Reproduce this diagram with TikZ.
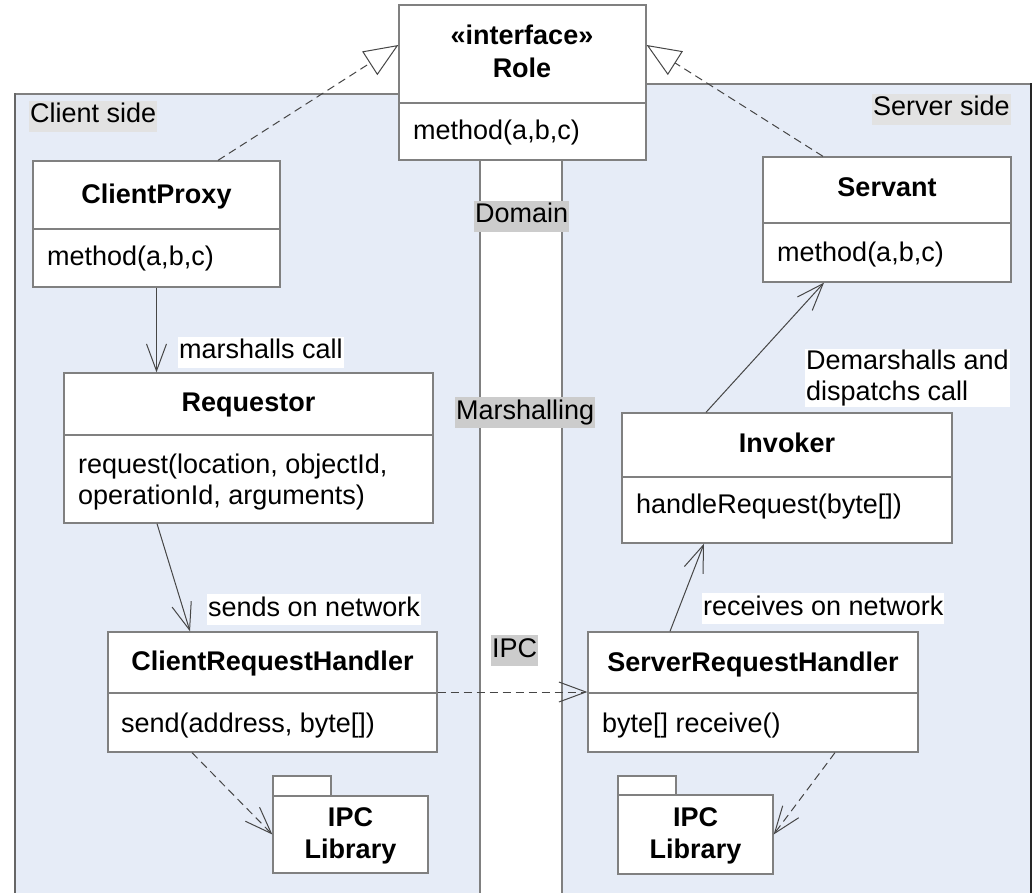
\documentclass[tikz,border=0pt]{standalone}
\usepackage{fontspec}
\setmainfont{Liberation Sans}
\usetikzlibrary{arrows.meta,fit}
\definecolor{panel}{RGB}{230,236,247}
\definecolor{edge}{RGB}{128,128,128}
\definecolor{labelgray}{RGB}{226,226,226}
\definecolor{stripgray}{RGB}{204,204,204}
\definecolor{wire}{RGB}{70,70,70}
\begin{document}
\begin{tikzpicture}[x=1pt,y=-1pt,
  every node/.style={font=\fontsize{27pt}{31pt}\selectfont},
  classbox/.style={draw=edge, fill=white, line width=1.3pt, inner sep=0pt},
  divider/.style={draw=edge, line width=1.3pt},
  ctitle/.style={anchor=base, inner sep=0pt, font=\fontsize{27pt}{31pt}\selectfont\bfseries},
  cbody/.style={anchor=base west, inner sep=0pt},
  tag/.style={anchor=base west, inner xsep=1pt, inner ysep=0pt, text height=22pt, text depth=9pt},
  wireline/.style={draw=wire, line width=1pt},
  vhead/.style={-{Straight Barb[length=27pt,width=20pt]}},
  dashedline/.style={dash pattern=on 8pt off 5pt},
  realize/.style={wireline, dashedline, -{Triangle[length=34pt,width=28pt,fill=white]}},
]
\useasboundingbox (0,0) rectangle (1034,893);

% panels
\fill[panel] (15,94) rectangle (480,893);
\fill[panel] (562,84) rectangle (1032,893);
\draw[edge, line width=1.3pt] (15,94) -- (480,94) -- (480,893);
\draw[black!60, line width=2.5pt] (15,93.4) -- (15,893);
\draw[edge, line width=1.3pt] (562,893) -- (562,84) -- (1031,84);
\draw[black!85, line width=2.5pt] (1031,83.4) -- (1031,893);

% panel labels
\node[tag, fill=labelgray] (clientlbl) at (29,123) {Client side};
\node[tag, fill=labelgray] (serverlbl) at (872,116) {Server side};

% Role
\node[classbox, fit={(399,5) (646,160)}] (role) {};
\draw[divider] (role.west |- 0,103) -- (role.east |- 0,103);
\node[ctitle] (roletitle1) at (522,45) {«interface»};
\node[ctitle] (roletitle2) at (522,78) {Role};
\node[cbody] (rolebody) at (413,140) {method(a,b,c)};

% layer labels
\node[tag, fill=stripgray] (domainlbl) at (474,223) {Domain};
\node[tag, fill=stripgray] (marshlbl) at (455,419) {Marshalling};
\node[tag, fill=stripgray] (ipclbl) at (491,657) {IPC};

% ClientProxy
\node[classbox, fit={(33,161) (280,287)}] (cp) {};
\draw[divider] (cp.west |- 0,229) -- (cp.east |- 0,229);
\node[ctitle] (cptitle) at (156.5,204) {ClientProxy};
\node[cbody] (cpbody) at (47,266) {method(a,b,c)};

% Requestor
\node[classbox, fit={(64,373) (433,523)}] (req) {};
\draw[divider] (req.west |- 0,435) -- (req.east |- 0,435);
\node[ctitle] (reqtitle) at (248.5,411) {Requestor};
\node[cbody] (reqbody1) at (78,473) {request(location, objectId,};
\node[cbody] (reqbody2) at (78,504) {operationId, arguments)};

% ClientRequestHandler
\node[classbox, fit={(108,632) (437,752)}] (crh) {};
\draw[divider] (crh.west |- 0,693) -- (crh.east |- 0,693);
\node[ctitle] (crhtitle) at (272.5,670) {ClientRequestHandler};
\node[cbody] (crhbody) at (121,732) {send(address, byte[])};

% client IPC library
\draw[classbox] (273,776) rectangle (331,796);
\node[classbox, fit={(273,796) (428,873)}] (lib1) {};
\node[ctitle] (lib1a) at (350.5,826) {IPC};
\node[ctitle] (lib1b) at (350.5,858) {Library};

% Servant
\node[classbox, fit={(763,157) (1011,282)}] (srv) {};
\draw[divider] (srv.west |- 0,223) -- (srv.east |- 0,223);
\node[ctitle] (srvtitle) at (887,197) {Servant};
\node[cbody] (srvbody) at (777,262) {method(a,b,c)};

% Invoker
\node[classbox, fit={(622,413) (952,543)}] (inv) {};
\draw[divider] (inv.west |- 0,477) -- (inv.east |- 0,477);
\node[ctitle] (invtitle) at (787,452) {Invoker};
\node[cbody] (invbody) at (636,513) {handleRequest(byte[])};

% ServerRequestHandler
\node[classbox, fit={(588,632) (918,752)}] (srh) {};
\draw[divider] (srh.west |- 0,693) -- (srh.east |- 0,693);
\node[ctitle] (srhtitle) at (753,671) {ServerRequestHandler};
\node[cbody] (srhbody) at (602,732) {byte[] receive()};

% server IPC library
\draw[classbox] (618,776) rectangle (676,795);
\node[classbox, fit={(618,795) (773,874)}] (lib2) {};
\node[ctitle] (lib2a) at (695.5,826) {IPC};
\node[ctitle] (lib2b) at (695.5,858) {Library};

% connector labels
\node[tag, fill=white] (l1) at (178,359) {marshalls call};
\node[tag, fill=white] (l2) at (207,616) {sends on network};
\node[tag, fill=white] (l3) at (702,615) {receives on network};
\node[fill=white, anchor=north west, align=left, inner xsep=1pt, inner ysep=1pt] (l4) at (805,349) {Demarshalls and\\dispatchs call};

% connectors
\draw[realize] ([xshift=61.5pt]cp.north) -- ([yshift=37.5pt]role.west);
\draw[realize] ([xshift=-64pt]srv.north) -- ([yshift=37.5pt]role.east);
\draw[wireline, vhead] (cp.south) -- (cp.south |- req.north);
\draw[wireline, vhead] ([xshift=-91.5pt]req.south) -- ([xshift=-82.5pt]crh.north);
\draw[wireline, dashedline, vhead] ([xshift=-80.5pt]crh.south) -- (lib1.west);
\draw[wireline, dashedline, vhead] (crh.east) -- (srh.west);
\draw[wireline, vhead] ([xshift=-83pt]srh.north) -- ([xshift=-83pt]inv.south);
\draw[wireline, vhead] ([xshift=-81pt]inv.north) -- ([xshift=-63pt]srv.south);
\draw[wireline, dashedline, vhead] ([xshift=82pt]srh.south) -- (lib2.east);
\end{tikzpicture}
\end{document}
